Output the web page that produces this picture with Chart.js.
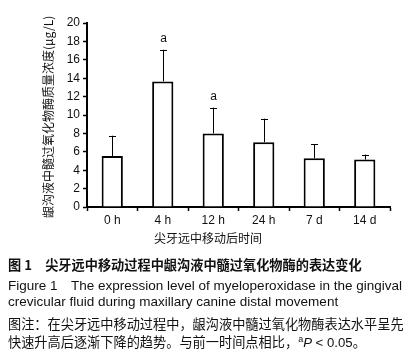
<!DOCTYPE html>
<html lang="zh">
<head>
<meta charset="utf-8">
<title>Figure 1</title>
<script src="https://cdn.jsdelivr.net/npm/chart.js"></script>
<style>
  body { margin: 0; background: #fff; width: 418px; height: 360px; overflow: hidden; }
  #wrap { position: relative; width: 418px; height: 250px; }
  .cap { position: absolute; left: 8px; font-family: "Liberation Sans", Arial, "Noto Sans CJK SC", sans-serif; font-size: 13.5px; color: #111; white-space: nowrap; }
  .zh { font-family: "Noto Sans CJK SC", sans-serif; font-size: 13.2px; }
  .b { font-weight: bold; }
  .ttl { position: absolute; font-family: "Noto Sans CJK SC", sans-serif; font-size: 12px; line-height: 16px; color: #111; text-align: center; white-space: nowrap; }
  #ytitle { left: -52px; top: 110px; width: 200px; transform: rotate(-90deg); }
  #xtitle { left: 108px; top: 230px; width: 200px; }
</style>
</head>
<body>
<div id="wrap">
  <canvas id="myChart" width="418" height="250"></canvas>
  <div id="ytitle" class="ttl">龈沟液中髓过氧化物酶质量浓度(μg/L)</div>
  <div id="xtitle" class="ttl">尖牙远中移动后时间</div>
</div>
<div class="cap zh b" style="top:255px">图 1　尖牙远中移动过程中龈沟液中髓过氧化物酶的表达变化</div>
<div class="cap" style="top:274px">Figure 1　The expression level of myeloperoxidase in the gingival</div>
<div class="cap" style="top:294px">crevicular fluid during maxillary canine distal movement</div>
<div class="cap zh" style="top:314px">图注：在尖牙远中移动过程中，龈沟液中髓过氧化物酶表达水平呈先</div>
<div class="cap zh" style="top:332px">快速升高后逐渐下降的趋势。与前一时间点相比，<sup style="font-family:'Liberation Sans';font-size:9px">a</sup><i style="font-family:'Liberation Sans'">P</i><span style="font-family:'Liberation Sans'"> &lt; 0.05</span>。</div>
<script>
  // data
  const labels = ['0 h', '4 h', '12 h', '24 h', '7 d', '14 d']
  const means = [5.55, 13.65, 8.0, 7.05, 5.3, 5.15]
  const errors = [2.2, 3.45, 2.8, 2.55, 1.5, 0.55]
  const marks = ['', 'a', 'a', '', '', '']

  // upward whiskers + significance letters
  const errorBars = {
    id: 'errorBars',
    afterDatasetsDraw(chart) {
      const ctx = chart.ctx
      const meta = chart.getDatasetMeta(0)
      const y = chart.scales.y
      ctx.save()
      ctx.strokeStyle = '#000'
      ctx.lineWidth = 1
      meta.data.forEach((bar, i) => {
        const top = y.getPixelForValue(means[i])
        const end = y.getPixelForValue(means[i] + errors[i])
        const x = Math.round(bar.x) + 0.5
        ctx.beginPath()
        ctx.moveTo(x, top)
        ctx.lineTo(x, end)
        ctx.moveTo(x - 3.5, Math.round(end) + 0.5)
        ctx.lineTo(x + 3.5, Math.round(end) + 0.5)
        ctx.stroke()
        if (marks[i]) {
          ctx.fillStyle = '#111'
          ctx.font = '12px "Liberation Sans", Arial, sans-serif'
          ctx.textAlign = 'center'
          ctx.textBaseline = 'bottom'
          ctx.fillText(marks[i], x, end - 5)
        }
      })
      ctx.restore()
    }
  }

  const data = {
    labels: labels,
    datasets: [
      {
        data: means,
        backgroundColor: '#fff',
        borderColor: '#000',
        borderWidth: 2,
        borderSkipped: 'bottom',
        categoryPercentage: 0.84,
        barPercentage: 0.5,
      },
    ],
  }

  const tickFont = { family: '"Liberation Sans", Arial, sans-serif', size: 12 }

  const config = {
    type: 'bar',
    data: data,
    options: {
      responsive: false,
      animation: false,
      layout: { padding: { top: 23, right: 28, left: 0, bottom: 0 } },
      plugins: { legend: { display: false }, tooltip: { enabled: false } },
      scales: {
        x: {
          grid: { display: true, drawOnChartArea: false, offset: true, color: '#000', tickLength: 4, tickWidth: 1.5 },
          border: { color: '#000', width: 2 },
          ticks: { color: '#111', font: tickFont, padding: 2 },
          afterFit: (s) => { s.height = 43 },
        },
        y: {
          min: 0,
          max: 20,
          grid: { display: true, drawOnChartArea: false, color: '#000', tickLength: 4, tickWidth: 1.5 },
          border: { color: '#000', width: 2 },
          ticks: { stepSize: 2, color: '#111', font: tickFont, padding: 3 },
          afterFit: (s) => { s.width = 87 },
        },
      },
    },
    plugins: [errorBars],
  }

  var myChart = new Chart(document.getElementById('myChart'), config)
</script>
</body>
</html>
